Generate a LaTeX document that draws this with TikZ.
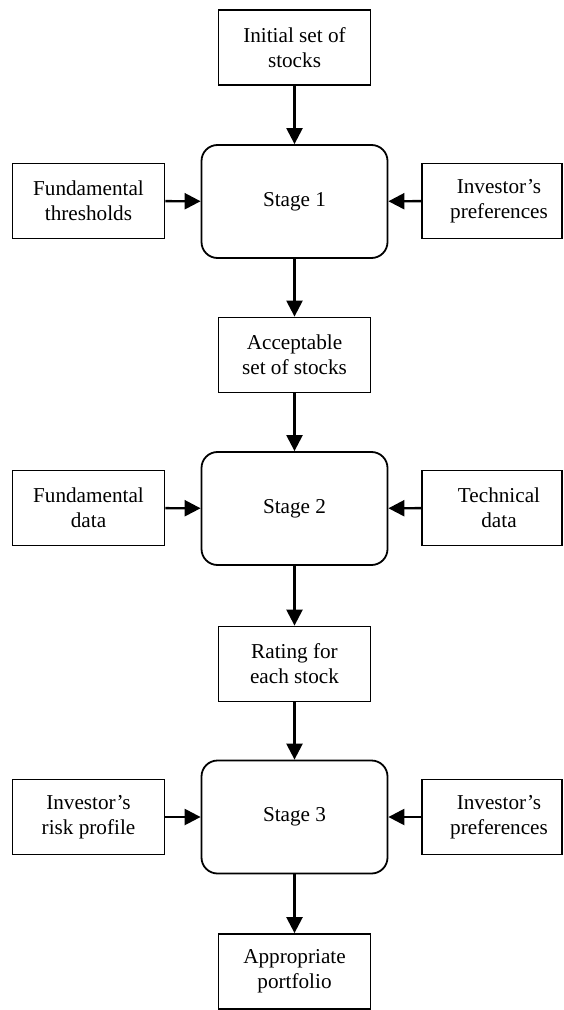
\documentclass[tikz,border=0pt]{standalone}
\usepackage{fontspec}
\setmainfont{Liberation Serif}
\usetikzlibrary{arrows.meta}
\begin{document}
\begin{tikzpicture}[x=0.5pt,y=-0.5pt,
  every node/.style={font=\fontsize{10.6}{12.6}\selectfont, align=center, inner sep=0pt},
  databox/.style={draw, line width=0.9pt, minimum width=76pt, minimum height=37.5pt},
  sidebox/.style={databox, minimum width=70pt},
  stagebox/.style={draw, line width=0.9pt, rounded corners=8pt, minimum width=93pt, minimum height=56.5pt},
  flow/.style={line width=1.2pt, -{Triangle[length=8pt,width=8pt]}}
]
\useasboundingbox (0,0) rectangle (563,1010);
\node[databox] (top) at (294.5,47.5) {Initial set of\\stocks};
\node[stagebox] (s1) at (294.5,201.5) {Stage 1};
\node[databox] (l1) at (88.5,201) {Fundamental\\thresholds};
\node[sidebox] (r1) at (492,201) {\hspace*{7pt}Investor’s\\\hspace*{7pt}preferences};
\node[databox] (acc) at (294.5,355) {Acceptable\\set of stocks};
\node[stagebox] (s2) at (294.5,508.5) {Stage 2};
\node[databox] (l2) at (88.5,508) {Fundamental\\data};
\node[sidebox] (r2) at (492,508) {\hspace*{7pt}Technical\\\hspace*{7pt}data};
\node[databox] (rat) at (294.5,664) {Rating for\\each stock};
\node[stagebox] (s3) at (294.5,817) {Stage 3};
\node[databox] (l3) at (88.5,817) {Investor’s\\risk profile};
\node[sidebox] (r3) at (492,817) {\hspace*{7pt}Investor’s\\\hspace*{7pt}preferences};
\node[databox] (port) at (294.5,971.5) {Appropriate\\portfolio};

\draw[flow] (top) -- (s1);
\draw[flow] (l1) -- (s1);
\draw[flow] (r1) -- (s1);
\draw[flow] (s1) -- (acc);
\draw[flow] (acc) -- (s2);
\draw[flow] (l2) -- (s2);
\draw[flow] (r2) -- (s2);
\draw[flow] (s2) -- (rat);
\draw[flow] (rat) -- (s3);
\draw[flow] (l3) -- (s3);
\draw[flow] (r3) -- (s3);
\draw[flow] (s3) -- (port);
\end{tikzpicture}
\end{document}
